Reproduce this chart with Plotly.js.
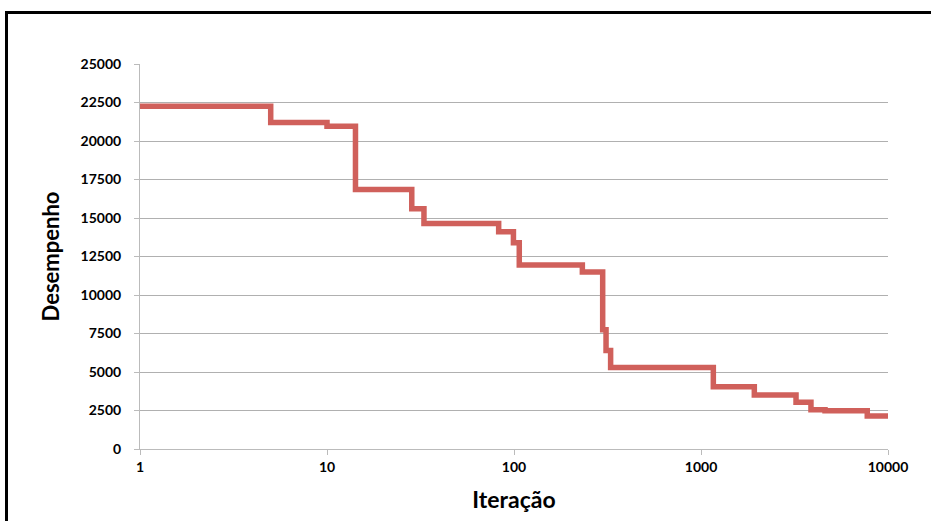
<!DOCTYPE html>
<html>
<head>
<meta charset="utf-8">
<script src="https://cdn.plot.ly/plotly-3.0.1.min.js"></script>
<style>
html,body{margin:0;padding:0;background:#fff;overflow:hidden;}
#frame{position:absolute;left:5px;top:11px;width:1000px;height:600px;border:3px solid #000;box-sizing:border-box;pointer-events:none;}
#chart{position:absolute;left:0;top:0;width:931px;height:521px;}
</style>
</head>
<body>
<div id="chart"></div>
<div id="frame"></div>
<script>
const iteracao = [1, 5, 10, 14.2, 28.4, 33, 82.8, 99.3, 106.7, 232, 298, 310.6, 328.6, 1164, 1928, 3222, 3873, 4605, 7746, 10000];
const desempenho = [22250, 21200, 20950, 16850, 15600, 14650, 14100, 13400, 11950, 11500, 7750, 6400, 5300, 4050, 3500, 3030, 2550, 2480, 2140, 2140];
const xTicks = [1, 10, 100, 1000, 10000];
const xTickText = ['1', '10', '100', '1000', '10000'];
const yTicks = [0, 2500, 5000, 7500, 10000, 12500, 15000, 17500, 20000, 22500, 25000];
const yTickText = ['0', '2500', '5000', '7500', '10000', '12500', '15000', '17500', '20000', '22500', '25000'];

const trace = {
  x: iteracao, y: desempenho, type: 'scatter', mode: 'lines',
  line: {shape: 'hv', color: '#D0605B', width: 5.5},
  hoverinfo: 'none'
};
const font = {family: 'Lato, "Open Sans", sans-serif', color: '#000'};
const layout = {
  width: 931, height: 521,
  margin: {l: 140, r: 43, t: 64, b: 72},
  paper_bgcolor: '#fff', plot_bgcolor: '#fff',
  showlegend: false,
  font: font,
  xaxis: {
    type: 'log', range: [0, 4],
    tickvals: xTicks, ticktext: xTickText,
    ticks: 'outside', ticklen: 5, tickcolor: '#bbb', tickwidth: 1,
    showgrid: false, zeroline: false,
    showline: true, linecolor: '#bbb', linewidth: 1,
    tickfont: {family: 'Lato, sans-serif', size: 14, color: '#000', weight: 'bold'},
    title: {text: 'Iteração', font: {family: 'Lato, sans-serif', size: 23, color: '#000', weight: 'bold'}, standoff: 18}
  },
  yaxis: {
    range: [0, 25000], tickvals: yTicks, ticktext: yTickText,
    ticks: 'outside', ticklen: 5, tickcolor: '#bbb', tickwidth: 1,
    ticklabelstandoff: 10,
    showgrid: true, gridcolor: '#b0b0b0', gridwidth: 1,
    zeroline: false,
    showline: true, linecolor: '#bbb', linewidth: 1,
    tickfont: {family: 'Lato, sans-serif', size: 14, color: '#000', weight: 'bold'},
    title: {text: 'Desempenho', font: {family: 'Lato, sans-serif', size: 22, color: '#000', weight: 'bold'}, standoff: 14}
  }
};
Plotly.newPlot('chart', [trace], layout, {staticPlot: true, displayModeBar: false});
</script>
</body>
</html>
